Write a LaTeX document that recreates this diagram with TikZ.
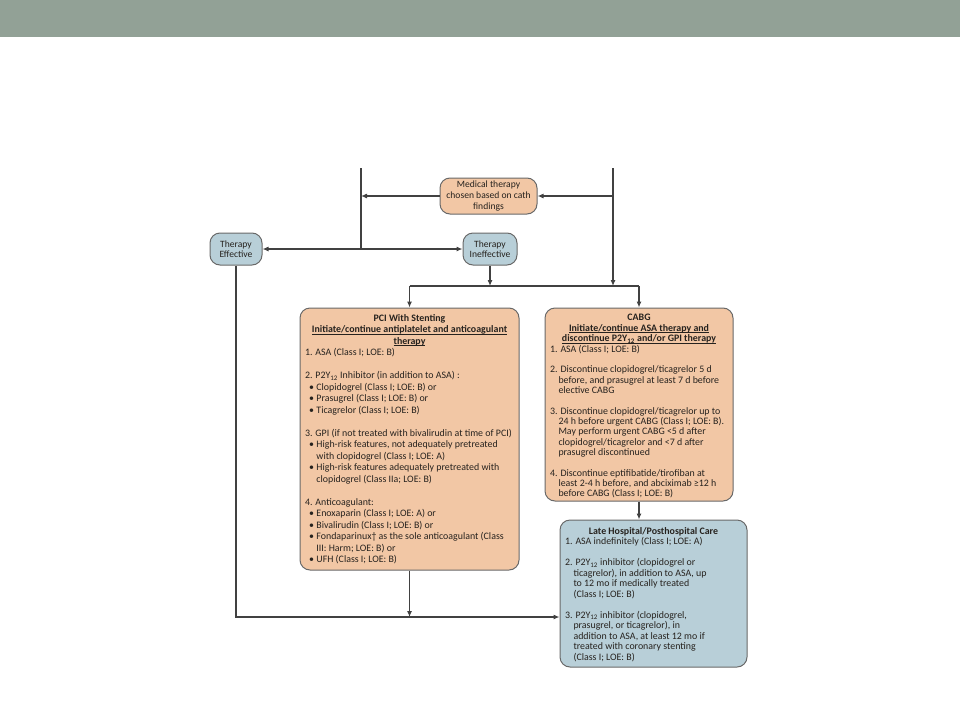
\documentclass[tikz,border=0pt]{standalone}
\usepackage{fontspec}
\setmainfont{Carlito}
\usetikzlibrary{arrows.meta}
\definecolor{headerbar}{RGB}{146,161,150}
\definecolor{peach}{RGB}{242,199,165}
\definecolor{paleblue}{RGB}{184,207,216}
\definecolor{edgegrey}{RGB}{105,105,105}
\definecolor{linegrey}{RGB}{65,65,65}
\definecolor{txt}{RGB}{38,34,30}
\newcommand\bul{\hspace*{4pt}\textbullet\hspace{2.5pt}}
\newcommand\bcont{\hspace*{4pt}\phantom{\textbullet}\hspace{2.5pt}}
\newcommand\icont{\hspace*{8.5pt}}
\newcommand\psub{P2Y\textsubscript{12}}
\newcommand\myul[1]{\leavevmode{\setbox0\hbox{#1}\rlap{\rule[-1.6pt]{\wd0}{0.6pt}}\box0}}
\tikzset{
  boxbase/.style={draw=edgegrey, line width=1pt, rounded corners=10pt, inner sep=0pt, text=txt},
  orangebox/.style={boxbase, fill=peach},
  bluebox/.style={boxbase, fill=paleblue},
  smalltext/.style={font=\fontsize{9.6}{10.6}\selectfont, align=center},
  conn/.style={draw=linegrey, line width=1.1pt},
  arr/.style={conn, -{Latex[length=6pt,width=5pt]}}
}
\begin{document}
\begin{tikzpicture}[x=1pt,y=-1pt]
\useasboundingbox (0,0) rectangle (960,720);
\fill[headerbar] (0,0) rectangle (960,37);

% small boxes
\node[orangebox, smalltext, minimum width=97pt, minimum height=36pt] (med) at (488.5,196)
  {Medical therapy\\chosen based on cath\\findings};
\node[bluebox, smalltext, minimum width=52pt, minimum height=32pt] (eff) at (236,249)
  {Therapy\\Effective};
\node[bluebox, smalltext, minimum width=54pt, minimum height=32pt] (ineff) at (490,249)
  {Therapy\\Ineffective};

% PCI box
\node[orangebox] (pci) at (409.5,439) {%
\begin{minipage}[c][262pt][t]{219pt}\fontsize{9.9}{11.5}\selectfont
\vspace*{6.5pt}
\leftskip=5pt\rightskip=-12pt plus 1fil
{\centering\bfseries PCI With Stenting\\
\myul{Initiate/continue antiplatelet and anticoagulant}\\
\myul{therapy}\par}
1. ASA (Class I; LOE: B)\\[11.5pt]
2. \psub{} Inhibitor (in addition to ASA) :\\
\bul Clopidogrel (Class I; LOE: B) or\\
\bul Prasugrel (Class I; LOE: B) or\\
\bul Ticagrelor (Class I; LOE: B)\\[11.5pt]
3. GPI (if not treated with bivalirudin at time of PCI)\\
\bul High-risk features, not adequately pretreated\\
\bcont with clopidogrel (Class I; LOE: A)\\
\bul High-risk features adequately pretreated with\\
\bcont clopidogrel (Class IIa; LOE: B)\\[11.5pt]
4. Anticoagulant:\\
\bul Enoxaparin (Class I; LOE: A) or\\
\bul Bivalirudin (Class I; LOE: B) or\\
\bul Fondaparinux† as the sole anticoagulant (Class\\
\bcont III: Harm; LOE: B) or\\
\bul UFH (Class I; LOE: B)
\end{minipage}};

% CABG box
\node[orangebox] (cabg) at (639,404.5) {%
\begin{minipage}[c][193pt][t]{188pt}\fontsize{9.9}{10.35}\selectfont
\vspace*{6.5pt}
\leftskip=5pt\rightskip=-12pt plus 1fil
{\centering\bfseries CABG\\
\myul{Initiate/continue ASA therapy and}\\
\myul{discontinue \psub{} and/or GPI therapy}\par}
1. ASA (Class I; LOE: B)\\[10.35pt]
2. Discontinue clopidogrel/ticagrelor 5 d\\
\icont before, and prasugrel at least 7 d before\\
\icont elective CABG\\[10.35pt]
3. Discontinue clopidogrel/ticagrelor up to\\
\icont 24 h before urgent CABG (Class I; LOE: B).\\
\icont May perform urgent CABG <5 d after\\
\icont clopidogrel/ticagrelor and <7 d after\\
\icont prasugrel discontinued\\[10.35pt]
4. Discontinue eptifibatide/tirofiban at\\
\icont least 2-4 h before, and abciximab ≥12 h\\
\icont before CABG (Class I; LOE: B)
\end{minipage}};

% Late hospital box
\node[bluebox] (late) at (653.5,593.5) {%
\begin{minipage}[c][147pt][t]{187pt}\fontsize{9.9}{10.5}\selectfont
\vspace*{7.5pt}
\leftskip=5pt\rightskip=-12pt plus 1fil
{\centering\bfseries Late Hospital/Posthospital Care\par}
1. ASA indefinitely (Class I; LOE: A)\\[10.5pt]
2. \psub{} inhibitor (clopidogrel or\\
\icont ticagrelor), in addition to ASA, up\\
\icont to 12 mo if medically treated\\
\icont (Class I; LOE: B)\\[10.5pt]
3. \psub{} inhibitor (clopidogrel,\\
\icont prasugrel, or ticagrelor), in\\
\icont addition to ASA, at least 12 mo if\\
\icont treated with coronary stenting\\
\icont (Class I; LOE: B)
\end{minipage}};

% coordinates
\coordinate (topL) at (361,168);
\coordinate (topR) at (613,168);
\coordinate (jL) at (361,249);
\coordinate (busR) at (613,286);
\coordinate (busA) at (409.5,286);
\coordinate (busB) at (639,286);
\coordinate (botc) at (236,617);

% connectors
\draw[conn] (topL) -- (jL);
\draw[arr] (topR) -- (busR);
\draw[arr] (topR |- med.east) -- (med.east);
\draw[arr] (med.west) -- (topL |- med.west);
\draw[arr] (jL) -- (eff.east);
\draw[arr] (jL) -- (ineff.west);
\draw[arr] (ineff.south) -- (ineff.south |- busA);
\draw[conn] (busA) -- (busB);
\draw[arr] (busA) -- (pci.north);
\draw[arr] (busB) -- (cabg.north);
\draw[arr] (cabg.south) -- (cabg.south |- late.north);
\draw[arr] (eff.south) -- (botc) -- (late.west |- botc);
\draw[arr] (pci.south) -- (pci.south |- botc);
\end{tikzpicture}
\end{document}
